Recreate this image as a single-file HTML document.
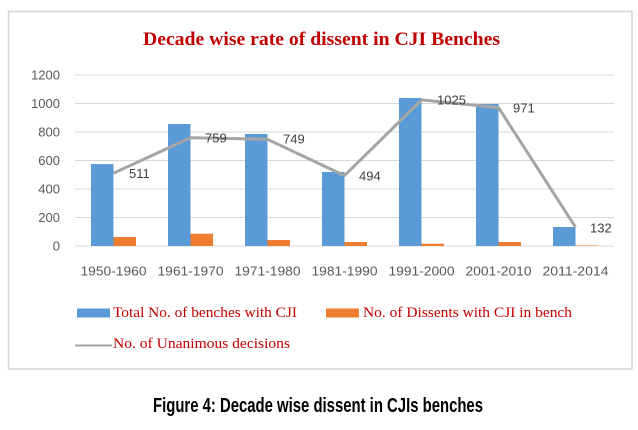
<!DOCTYPE html>
<html><head><meta charset="utf-8"><style>
html,body{margin:0;padding:0;background:#fff;}
svg{display:block;}
</style></head><body>
<svg width="638" height="430" viewBox="0 0 638 430" xmlns="http://www.w3.org/2000/svg">
<rect x="0" y="0" width="638" height="430" fill="#fff"/>
<rect x="8.5" y="11.5" width="623.5" height="357.5" fill="#fff" stroke="#d4d4d4" stroke-width="1.5"/>
<text x="143" y="45" font-family="Liberation Serif, serif" font-weight="bold" font-size="19" fill="#c00000" textLength="357" lengthAdjust="spacingAndGlyphs">Decade wise rate of dissent in CJI Benches</text>
<g stroke="#d9d9d9" stroke-width="1">
<line x1="75" x2="614" y1="75" y2="75"/>
<line x1="75" x2="614" y1="103.5" y2="103.5"/>
<line x1="75" x2="614" y1="132" y2="132"/>
<line x1="75" x2="614" y1="160.5" y2="160.5"/>
<line x1="75" x2="614" y1="189" y2="189"/>
<line x1="75" x2="614" y1="217.5" y2="217.5"/>
<line x1="75" x2="614" y1="246" y2="246"/>
</g>
<g font-family="Liberation Sans, sans-serif" font-size="13" fill="#595959" text-anchor="end">
<text x="60" y="79.5">1200</text>
<text x="60" y="108">1000</text>
<text x="60" y="136.5">800</text>
<text x="60" y="165">600</text>
<text x="60" y="193.5">400</text>
<text x="60" y="222">200</text>
<text x="60" y="250.5">0</text>
</g>
<g fill="#5b9bd5">
<rect x="91" y="164.1" width="22.5" height="81.9"/>
<rect x="168" y="124" width="22.5" height="122"/>
<rect x="245" y="134" width="22.5" height="112"/>
<rect x="322" y="172" width="22.5" height="74"/>
<rect x="399" y="98" width="22.5" height="148"/>
<rect x="476" y="104" width="22.5" height="142"/>
<rect x="553" y="227" width="22.5" height="19"/>
</g>
<g fill="#ed7d31">
<rect x="113.5" y="237" width="22.5" height="9"/>
<rect x="190.5" y="233.7" width="22.5" height="12.3"/>
<rect x="267.5" y="240" width="22.5" height="6"/>
<rect x="344.5" y="242" width="22.5" height="4"/>
<rect x="421.5" y="243.7" width="22.5" height="2.3"/>
<rect x="498.5" y="242" width="22.5" height="4"/>
<rect x="575.5" y="245.5" width="22.5" height="0.5"/>
</g>
<polyline points="113.5,173.2 190.5,137.8 267.5,139.3 344.5,175.6 421.5,99.9 498.5,107.6 575.5,227.2" fill="none" stroke="#a5a5a5" stroke-width="3" stroke-linejoin="round"/>
<g font-family="Liberation Sans, sans-serif" font-size="13" fill="#404040">
<text x="129" y="178">511</text>
<text x="205" y="142.5">759</text>
<text x="283" y="143.5">749</text>
<text x="359" y="180.5">494</text>
<text x="437" y="104.5">1025</text>
<text x="513" y="112.5">971</text>
<text x="590" y="232.5">132</text>
</g>
<g font-family="Liberation Sans, sans-serif" font-size="13" fill="#595959" text-anchor="middle">
<text x="113.5" y="275.5" textLength="66" lengthAdjust="spacingAndGlyphs">1950-1960</text>
<text x="190.5" y="275.5" textLength="66" lengthAdjust="spacingAndGlyphs">1961-1970</text>
<text x="267.5" y="275.5" textLength="66" lengthAdjust="spacingAndGlyphs">1971-1980</text>
<text x="344.5" y="275.5" textLength="66" lengthAdjust="spacingAndGlyphs">1981-1990</text>
<text x="421.5" y="275.5" textLength="66" lengthAdjust="spacingAndGlyphs">1991-2000</text>
<text x="498.5" y="275.5" textLength="66" lengthAdjust="spacingAndGlyphs">2001-2010</text>
<text x="575.5" y="275.5" textLength="66" lengthAdjust="spacingAndGlyphs">2011-2014</text>
</g>
<rect x="77" y="308.5" width="33" height="9" fill="#5b9bd5"/>
<text x="113" y="317" font-family="Liberation Serif, serif" font-size="15" fill="#c00000" textLength="184" lengthAdjust="spacingAndGlyphs">Total No. of benches with CJI</text>
<rect x="326" y="308.5" width="33" height="9" fill="#ed7d31"/>
<text x="363" y="317" font-family="Liberation Serif, serif" font-size="15" fill="#c00000" textLength="209" lengthAdjust="spacingAndGlyphs">No. of Dissents with CJI in bench</text>
<line x1="75" x2="112" y1="345.5" y2="345.5" stroke="#a5a5a5" stroke-width="2"/>
<text x="113" y="348" font-family="Liberation Serif, serif" font-size="15" fill="#c00000" textLength="177" lengthAdjust="spacingAndGlyphs">No. of Unanimous decisions</text>
<text x="153" y="412" font-family="Liberation Sans, sans-serif" font-weight="bold" font-size="20" fill="#000" textLength="330" lengthAdjust="spacingAndGlyphs">Figure 4: Decade wise dissent in CJIs benches</text>
</svg>
</body></html>
